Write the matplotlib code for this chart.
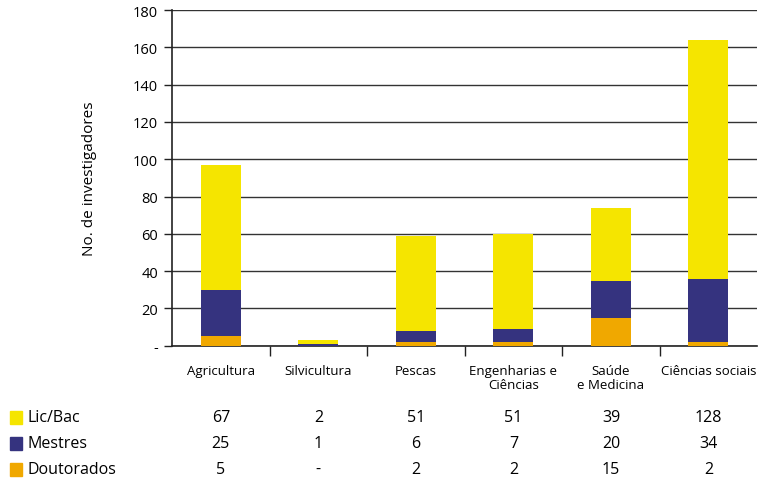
import matplotlib.pyplot as plt
import matplotlib.patches as mpatches
import matplotlib.transforms as mtransforms
import numpy as np

categories = ['Agricultura', 'Silvicultura', 'Pescas', 'Engenharias e\nCiências',
              'Saúde\ne Medicina', 'Ciências sociais']
lic_bac = [67, 2, 51, 51, 39, 128]
mestres = [25, 1, 6, 7, 20, 34]
doutorados = [5, 0, 2, 2, 15, 2]
doutorados_txt = ['5', '-', '2', '2', '15', '2']

yellow = '#f5e500'
blue = '#35337f'
orange = '#f0a800'

plt.rcParams['font.family'] = ['Open Sans', 'DejaVu Sans']

fig = plt.figure(figsize=(7.58, 4.81), dpi=100)
ax = fig.add_axes([0.227, 0.279, 0.772, 0.698])

x = np.arange(len(categories))
w = 0.41
ax.bar(x, doutorados, w, color=orange, zorder=3)
ax.bar(x, mestres, w, bottom=doutorados, color=blue, zorder=3)
bottom2 = np.array(doutorados) + np.array(mestres)
ax.bar(x, lic_bac, w, bottom=bottom2, color=yellow, zorder=3)

ax.set_xlim(-0.5, len(categories) - 0.5)
ax.set_ylim(0, 180)
yt = np.arange(0, 181, 20)
ax.set_yticks(yt)
ax.set_yticklabels(['-'] + [str(v) for v in yt[1:]], fontsize=10.5)
ax.yaxis.grid(True, color='#333333', linewidth=1.0, zorder=0)

ax.set_xticks(x)
ax.set_xticklabels(categories, fontsize=9.5, linespacing=1.1)
ax.tick_params(axis='x', which='major', length=0, pad=13)
ax.set_xticks(np.arange(0.5, len(categories) - 0.5), minor=True)
ax.tick_params(axis='x', which='minor', length=7, width=1, color='#222222', direction='out')
ax.tick_params(axis='y', length=6, width=1, color='#222222', direction='out', pad=4)

for s in ['top', 'right']:
    ax.spines[s].set_visible(False)
ax.spines['left'].set_color('#222222')
ax.spines['bottom'].set_color('#222222')
ax.spines['left'].set_linewidth(1.2)
ax.spines['bottom'].set_linewidth(1.2)

ax.set_ylabel('No. de investigadores', fontsize=11, labelpad=26)

# data table below the chart
trans = mtransforms.blended_transform_factory(ax.transData, fig.transFigure)
rows = [('Lic/Bac', yellow, [str(v) for v in lic_bac]),
        ('Mestres', blue, [str(v) for v in mestres]),
        ('Doutorados', orange, doutorados_txt)]
row_y = [418, 444, 470]
for (name, col, vals), py in zip(rows, row_y):
    fy = 1 - py / 481
    fig.patches.append(mpatches.Rectangle((10 / 758, fy - 6.5 / 481), 12 / 758, 13 / 481,
                                          transform=fig.transFigure, color=col))
    fig.text(27 / 758, fy, name, fontsize=11.5, va='center', ha='left')
    for xi, v in zip(x, vals):
        fig.text(xi, fy, v, fontsize=11.5, va='center', ha='center', transform=trans)

fig.savefig('out.png', dpi=100)
